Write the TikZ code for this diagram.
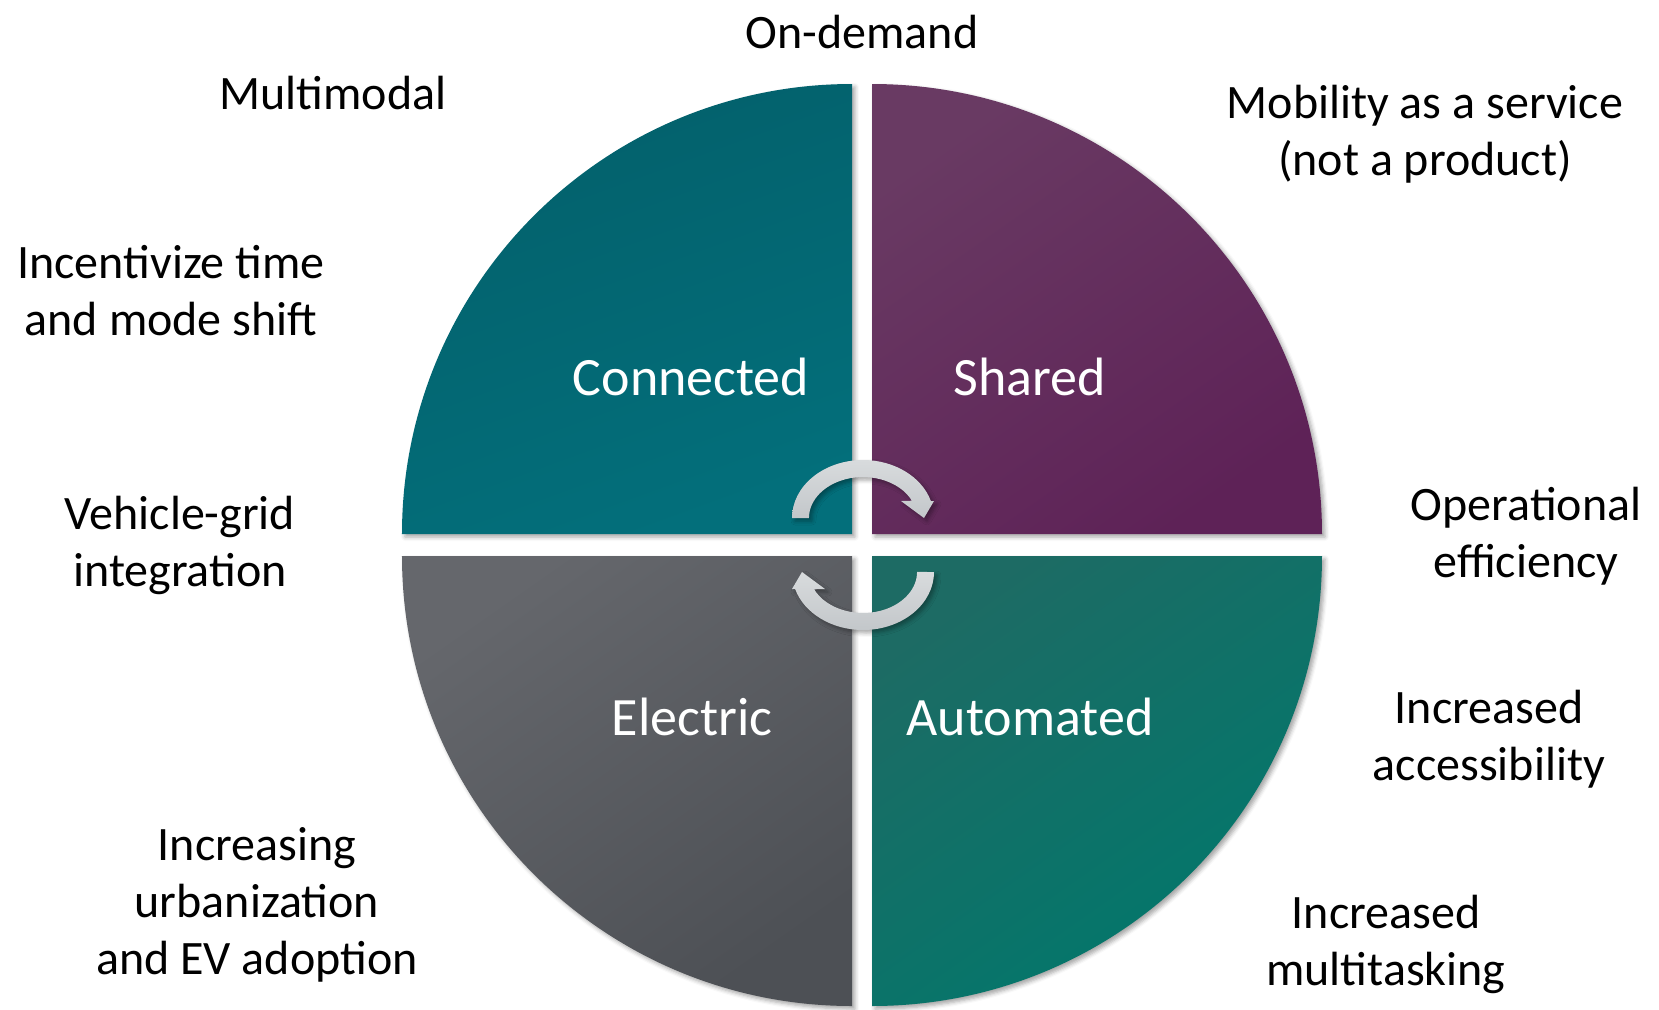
\documentclass[tikz,border=0pt]{standalone}
\usepackage{fontspec}
\setmainfont{Carlito}
\usetikzlibrary{shadows.blur}
\definecolor{connA}{HTML}{03606B}
\definecolor{connB}{HTML}{036F7B}
\definecolor{shareA}{HTML}{693A63}
\definecolor{shareB}{HTML}{5E2257}
\definecolor{elecA}{HTML}{65676C}
\definecolor{elecB}{HTML}{4D5055}
\definecolor{autoA}{HTML}{1D6B64}
\definecolor{autoB}{HTML}{00786C}
\definecolor{turnA}{HTML}{D8DBDD}
\definecolor{turnB}{HTML}{C3C7CA}
\begin{document}
\begin{tikzpicture}[x=0.5pt,y=0.5pt]
\tikzstyle{every node}+=[inner sep=0pt]
\tikzstyle{quad}=[blur shadow={shadow xshift=1.5pt,shadow yshift=-1.5pt,shadow blur radius=2pt,shadow opacity=35}]
\tikzstyle{turn}=[quad,top color=turnA,bottom color=turnB]
\tikzstyle{lbl}=[align=center,font=\fontsize{24}{28.5}\selectfont]
\tikzstyle{qlbl}=[white,font=\fontsize{27}{32}\selectfont]
\useasboundingbox (-862,-464) rectangle (797,545);

% the four quarters
\shade [quad,top color=connA,bottom color=connB,shading angle=20] (-10,11) -- (-460,11) arc (180:90:450) -- cycle;
\shade [quad,top color=shareA,bottom color=shareB,shading angle=35] (10,11) -- (10,461) arc (90:0:450) -- cycle;
\shade [quad,top color=elecA,bottom color=elecB,shading angle=35] (-10,-11) -- (-460,-11) arc (180:270:450) -- cycle;
\shade [quad,top color=autoA,bottom color=autoB,shading angle=35] (10,-11) -- (10,-461) arc (270:360:450) -- cycle;

\node[qlbl] (connected) at (-171,168) {Connected};
\node[qlbl] (shared) at (168,168) {Shared};
\node[qlbl] (electric) at (-170,-172) {Electric};
\node[qlbl] (automated) at (168,-172) {Automated};

% turning arrows in the middle
\shade [turn] (-70,27) arc [start angle=180,end angle=17,x radius=71,y radius=58]
  -- (72,44) -- (62,27) -- (39,44) -- (49.9,44.3)
  arc [start angle=25,end angle=180,x radius=54,y radius=41] -- cycle;
\shade [turn] (72,-27) arc [start angle=0,end angle=-163,x radius=71,y radius=58]
  -- (-70,-44) -- (-60,-27) -- (-37,-44) -- (-47.9,-44.3)
  arc [start angle=205,end angle=360,x radius=54,y radius=41] -- cycle;

% drivers around the circle
\node[lbl] (ondemand) at (0,513) {On-demand};
\node[lbl] (multimodal) at (-529,452) {Multimodal};
\node[lbl] (maas) at (563,411) {Mobility as a service\\(not a product)};
\node[lbl] (incentive) at (-691,254) {Incentivize time\\and mode shift};
\node[lbl] (vgi) at (-682,0) {Vehicle-grid\\integration};
\node[lbl] (operational) at (664,9) {Operational\\efficiency};
\node[lbl] (access) at (627,-194) {Increased\\accessibility};
\node[lbl] (urban) at (-605,-360) {Increasing\\urbanization\\and EV adoption};
\node[lbl] (multitask) at (524,-399) {Increased\\multitasking};
\end{tikzpicture}
\end{document}
